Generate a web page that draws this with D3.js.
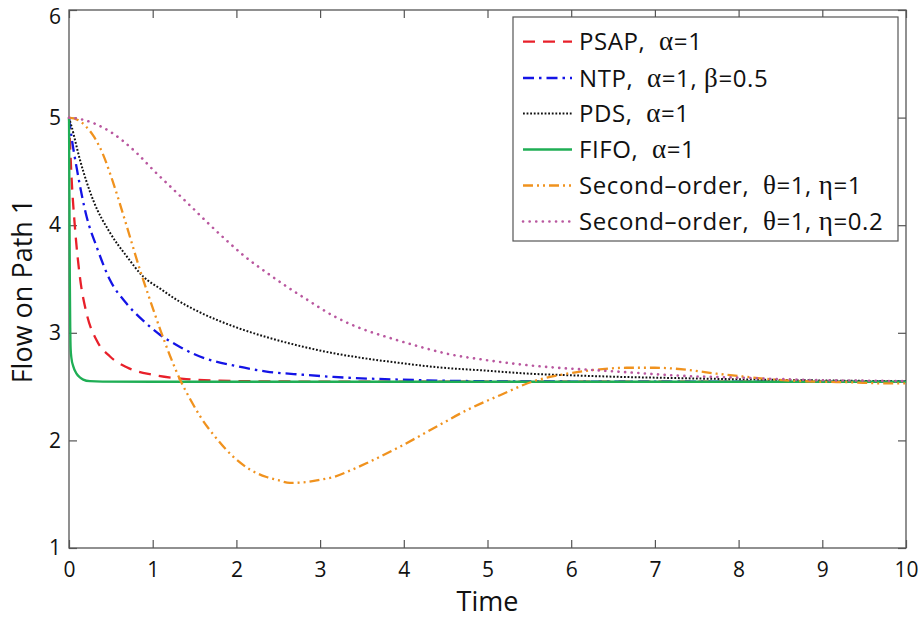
<!DOCTYPE html>
<html><head><meta charset="utf-8">
<script src="https://cdn.jsdelivr.net/npm/d3@7"></script>
<style>body{margin:0;background:#fff}svg{display:block}text{font-family:"Open Sans",sans-serif;white-space:pre}</style>
</head><body><svg id="c" width="922" height="619"></svg>
<script>
// Data
const xTicks = [0,1,2,3,4,5,6,7,8,9,10];
const yTicks = [1,2,3,4,5,6];

const psapT = [0,0.03,0.07,0.13,0.21,0.33,0.49,0.69,1.0,1.4,1.8,2.5,4,6,8,10];
const psapY = [5,4.45,3.99,3.52,3.18,2.93,2.78,2.68,2.61,2.57,2.555,2.548,2.545,2.545,2.545,2.545];

const ntpT = [0,0.03,0.09,0.21,0.33,0.49,0.69,0.89,1.09,1.3,1.5,2.0,2.36,2.8,3.16,3.95,5,6,7,8,10];
const ntpY = [5,4.82,4.54,4.08,3.80,3.49,3.27,3.11,2.98,2.88,2.80,2.69,2.64,2.61,2.59,2.565,2.55,2.547,2.545,2.545,2.545];

const pdsT = [0,0.03,0.13,0.29,0.49,0.69,0.89,1.09,1.3,1.565,2.0,2.36,2.8,3.16,3.56,3.95,4.4,4.95,5.5,6.0,6.6,7.2,8.0,9.0,10];
const pdsY = [5,4.92,4.61,4.23,3.93,3.71,3.52,3.41,3.30,3.19,3.05,2.96,2.87,2.81,2.76,2.72,2.68,2.65,2.62,2.605,2.59,2.58,2.568,2.557,2.55];

const fifoT = [0,0.005,0.01,0.015,0.02,0.03,0.05,0.09,0.13,0.17,0.25,0.4,1,2,4,6,8,10];
const fifoY = [5,4.3,3.5,3.05,2.85,2.76,2.69,2.62,2.585,2.565,2.55,2.546,2.545,2.545,2.545,2.545,2.545,2.545];

const so1T = [0,0.1,0.2,0.3,0.4,0.5,0.6,0.69,0.85,0.97,1.09,1.21,1.33,1.45,1.57,1.76,1.96,2.16,2.36,2.5,2.64,2.8,3.0,3.16,3.36,3.56,3.95,4.35,4.75,5.15,5.55,5.95,6.34,6.66,7.0,7.4,7.74,8.1,8.53,9.0,9.33,9.73,10];
const so1Y = [5,4.98,4.92,4.82,4.67,4.46,4.22,3.99,3.58,3.30,3.03,2.78,2.56,2.38,2.22,2.02,1.85,1.73,1.66,1.63,1.605,1.61,1.635,1.66,1.72,1.79,1.94,2.11,2.28,2.42,2.55,2.62,2.66,2.675,2.675,2.655,2.62,2.59,2.56,2.545,2.54,2.53,2.53];

const so2T = [0,0.17,0.49,0.81,1.01,1.25,1.45,1.66,1.88,2.1,2.36,2.6,2.84,3.2,3.56,3.76,4.15,4.55,4.95,5.35,5.75,6.14,6.54,7.34,8.14,8.93,9.5,10];
const so2Y = [5,4.98,4.87,4.67,4.51,4.33,4.18,4.02,3.86,3.71,3.56,3.43,3.31,3.14,3.02,2.97,2.88,2.80,2.75,2.71,2.68,2.66,2.64,2.60,2.58,2.56,2.555,2.55];

const legendParts = [
  [["PSAP,  ",0],["α",1],["=1",0]],
  [["NTP,  ",0],["α",1],["=1, ",0],["β",1],["=0.5",0]],
  [["PDS,  ",0],["α",1],["=1",0]],
  [["FIFO,  ",0],["α",1],["=1",0]],
  [["Second–order,  ",0],["θ",1],["=1, ",0],["η",1],["=1",0]],
  [["Second–order,  ",0],["θ",1],["=1, ",0],["η",1],["=0.2",0]]
];

const series = [
  {t:psapT, y:psapY, color:"#e8202a", dash:"12,8", w:2.3, cap:"butt"},
  {t:ntpT, y:ntpY, color:"#1414e6", dash:"11,5,2.5,5", w:2.3, cap:"butt"},
  {t:pdsT, y:pdsY, color:"#111111", dash:"1.8,1.8", w:2, cap:"butt"},
  {t:fifoT, y:fifoY, color:"#1fae55", dash:null, w:2.3, cap:"butt"},
  {t:so1T, y:so1Y, color:"#f0921e", dash:"10,4,2,4,2,4", w:2.3, cap:"butt"},
  {t:so2T, y:so2Y, color:"#b9579f", dash:"0.1,6.5", w:2.6, cap:"round"}
];

const svg = d3.select("#c");
const L=69, R=906, T=10, B=548;
const x = d3.scaleLinear().domain([0,10]).range([L,R]);
const y = d3.scaleLinear().domain([1,6]).range([B,T]);

const axisColor="#555";
svg.append("rect").attr("x",L).attr("y",T).attr("width",R-L).attr("height",B-T)
  .attr("fill","none").attr("stroke",axisColor).attr("stroke-width",1.3);

const tl=8;
const gx=svg.append("g").attr("transform",`translate(0,${B})`)
  .call(d3.axisBottom(x).tickValues(xTicks).tickSize(-tl).tickPadding(14).tickFormat(d3.format("d")));
const gxt=svg.append("g").attr("transform",`translate(0,${T})`)
  .call(d3.axisTop(x).tickValues(xTicks).tickSize(-tl).tickFormat(""));
const gy=svg.append("g").attr("transform",`translate(${L},0)`)
  .call(d3.axisLeft(y).tickValues(yTicks).tickSize(-tl).tickPadding(8).tickFormat(d3.format("d")));
const gyr=svg.append("g").attr("transform",`translate(${R},0)`)
  .call(d3.axisRight(y).tickValues(yTicks).tickSize(-tl).tickFormat(""));
[gx,gxt,gy,gyr].forEach(g=>{
  g.select(".domain").remove();
  g.selectAll(".tick line").attr("stroke",axisColor).attr("stroke-width",1.2);
  g.selectAll("text").attr("fill","#111").style("font-size","21px").style("font-family","'Open Sans',sans-serif");
});
gy.selectAll(".tick").filter(d=>d===6).select("text").attr("dy","0.62em");

const line = d3.line().x(d=>x(d[0])).y(d=>y(d[1])).curve(d3.curveMonotoneX);
const plotG = svg.append("g");
series.forEach(s=>{
  const pts = s.t.map((t,i)=>[t,s.y[i]]);
  const p = plotG.append("path").attr("d",line(pts)).attr("fill","none")
    .attr("stroke",s.color).attr("stroke-width",s.w).attr("stroke-linecap",s.cap);
  if(s.dash) p.attr("stroke-dasharray",s.dash);
});

svg.append("text").attr("x",(L+R)/2).attr("y",611).attr("text-anchor","middle")
  .style("font-size","27px").attr("fill","#111").text("Time");
svg.append("text").attr("transform",`translate(32,291) rotate(-90)`).attr("text-anchor","middle")
  .style("font-size","27px").attr("fill","#111").text("Flow on Path 1");

const lg = svg.append("g");
lg.append("rect").attr("x",513).attr("y",17).attr("width",385).attr("height",224)
  .attr("fill","#fff").attr("stroke",axisColor).attr("stroke-width",1.2);
const rowY = [41.7,78,113.5,149.5,185.5,221.5];
series.forEach((s,i)=>{
  const ln = lg.append("line").attr("x1",523).attr("x2",572).attr("y1",rowY[i]).attr("y2",rowY[i])
    .attr("stroke",s.color).attr("stroke-width",s.w).attr("stroke-linecap",s.cap);
  if(s.dash) ln.attr("stroke-dasharray",s.dash);
  const tx = lg.append("text").attr("x",579).attr("y",rowY[i]+8.5).style("font-size","24px")
    .style("letter-spacing","0.6px").attr("fill","#111");
  legendParts[i].forEach(([str,greek])=>{
    const sp = tx.append("tspan").text(str);
    if(greek) sp.style("font-family","'Liberation Serif',serif").style("font-size","27px");
  });
});
</script></body></html>
